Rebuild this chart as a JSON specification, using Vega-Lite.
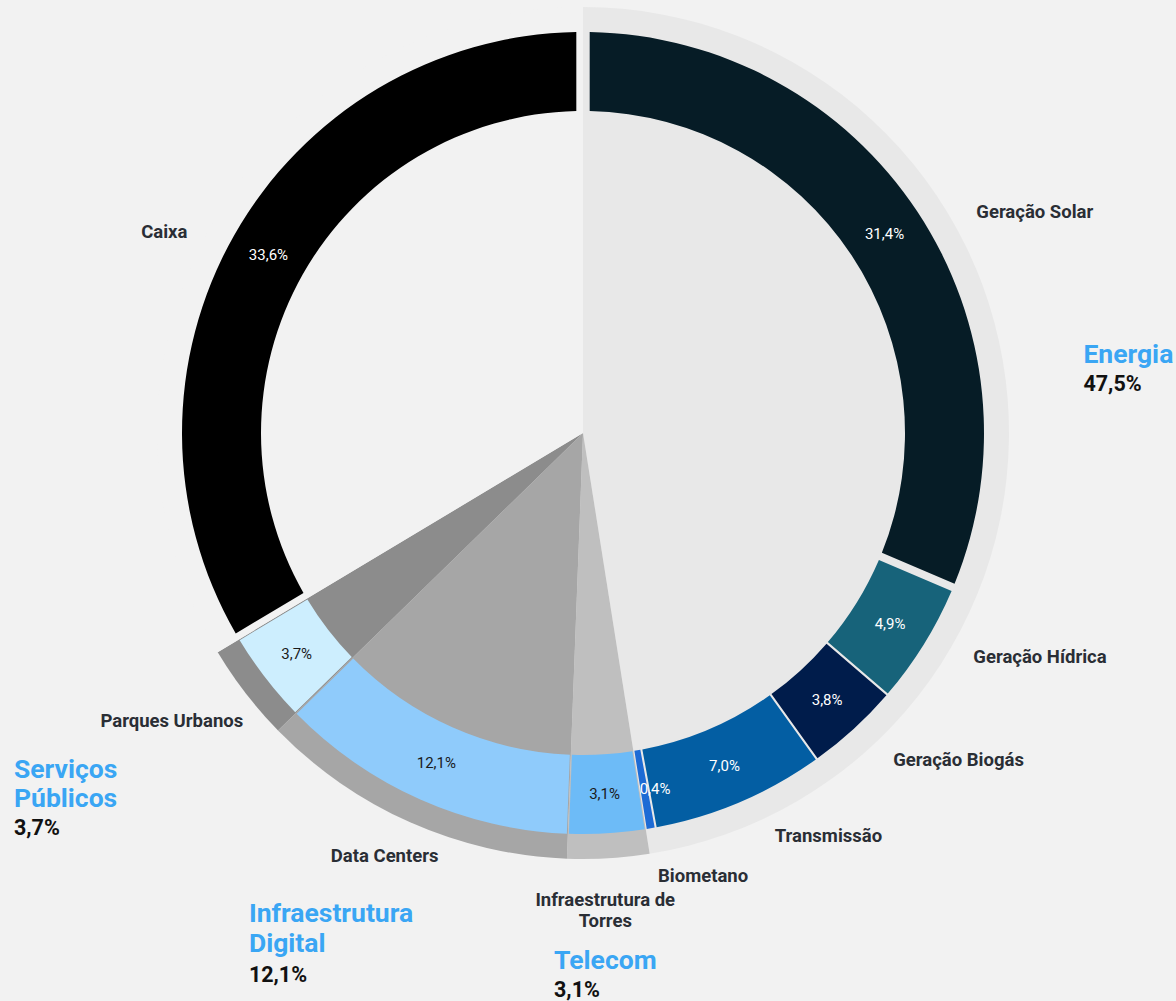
{
  "$schema": "https://vega.github.io/schema/vega-lite/v6.json",
  "width": 1166,
  "height": 866,
  "autosize": {"type": "none"},
  "padding": {"left": 0, "top": 0, "right": 10, "bottom": 135},
  "background": "#f2f2f2",
  "config": {"view": {"stroke": null}, "font": "Roboto", "text": {"font": "Roboto"}},
  "datasets": {
    "segs": [
      {"k": 1, "segment": "Geração Solar", "group": "Energia", "value": 31.4, "pct": "31,4%"},
      {"k": 2, "segment": "Geração Hídrica", "group": "Energia", "value": 4.9, "pct": "4,9%"},
      {"k": 3, "segment": "Geração Biogás", "group": "Energia", "value": 3.8, "pct": "3,8%"},
      {"k": 4, "segment": "Transmissão", "group": "Energia", "value": 7.0, "pct": "7,0%"},
      {"k": 5, "segment": "Biometano", "group": "Energia", "value": 0.4, "pct": "0,4%"},
      {"k": 6, "segment": "Infraestrutura de\nTorres", "group": "Telecom", "value": 3.1, "pct": "3,1%"},
      {"k": 7, "segment": "Data Centers", "group": "Infraestrutura Digital", "value": 12.1, "pct": "12,1%"},
      {"k": 8, "segment": "Parques Urbanos", "group": "Serviços Públicos", "value": 3.7, "pct": "3,7%"},
      {"k": 9, "segment": "Caixa", "group": "Caixa", "value": 33.6, "pct": "33,6%"}
    ],
    "groups": [
      {"k": 1, "group": "Energia", "label": "Energia", "value": 47.5, "pct": "47,5%"},
      {"k": 2, "group": "Telecom", "label": "Telecom", "value": 3.1, "pct": "3,1%"},
      {"k": 3, "group": "Infraestrutura Digital", "label": "Infraestrutura\nDigital", "value": 12.1, "pct": "12,1%"},
      {"k": 4, "group": "Serviços Públicos", "label": "Serviços\nPúblicos", "value": 3.7, "pct": "3,7%"},
      {"k": 5, "group": "Caixa", "label": "", "value": 33.6, "pct": ""}
    ]
  },
  "resolve": {"scale": {"color": "independent"}},
  "layer": [
    {
      "data": {"name": "groups"},
      "mark": {"type": "arc", "radius": 426},
      "encoding": {
        "theta": {"field": "value", "type": "quantitative", "stack": true, "scale": {"domain": [0, 100]}},
        "order": {"field": "k", "type": "quantitative"},
        "color": {"field": "group", "type": "nominal", "legend": null,
          "scale": {"domain": ["Energia", "Telecom", "Infraestrutura Digital", "Serviços Públicos", "Caixa"],
                    "range": ["#e8e8e8", "#bfbfbf", "#a6a6a6", "#8c8c8c", "#f2f2f2"]}}
      }
    },
    {
      "data": {"name": "segs"},
      "mark": {"type": "arc", "radius": 401, "radius2": 322, "padAngle": 0.004},
      "encoding": {
        "theta": {"field": "value", "type": "quantitative", "stack": true, "scale": {"domain": [0, 100]}},
        "order": {"field": "k", "type": "quantitative"},
        "color": {"field": "segment", "type": "nominal", "legend": null,
          "scale": {"domain": ["Geração Solar", "Geração Hídrica", "Geração Biogás", "Transmissão", "Biometano", "Infraestrutura de\nTorres", "Data Centers", "Parques Urbanos", "Caixa"],
                    "range": ["#061c26", "#17637a", "#001c4b", "#035ea3", "#1d6bd5", "#6dbbf7", "#8fcbfb", "#cdeefe", "#000000"]}},
        "opacity": {"condition": {"test": "datum.k === 1 || datum.k === 9", "value": 0}, "value": 1}
      }
    },
    {
      "data": {"name": "segs"},
      "mark": {"type": "arc", "radius": 401, "radius2": 322, "padAngle": 0.026},
      "encoding": {
        "theta": {"field": "value", "type": "quantitative", "stack": true, "scale": {"domain": [0, 100]}},
        "order": {"field": "k", "type": "quantitative"},
        "color": {"field": "segment", "type": "nominal", "legend": null,
          "scale": {"domain": ["Geração Solar", "Geração Hídrica", "Geração Biogás", "Transmissão", "Biometano", "Infraestrutura de\nTorres", "Data Centers", "Parques Urbanos", "Caixa"],
                    "range": ["#061c26", "#17637a", "#001c4b", "#035ea3", "#1d6bd5", "#6dbbf7", "#8fcbfb", "#cdeefe", "#000000"]}},
        "opacity": {"condition": {"test": "datum.k === 1 || datum.k === 9", "value": 1}, "value": 0}
      }
    },
    {
      "data": {"name": "segs"},
      "mark": {"type": "text", "radius": 361.5, "align": "center", "baseline": "middle", "fontSize": 15},
      "encoding": {
        "theta": {"field": "value", "type": "quantitative", "stack": true, "scale": {"domain": [0, 100]}},
        "order": {"field": "k", "type": "quantitative"},
        "detail": {"field": "segment", "type": "nominal"},
        "text": {"condition": {"test": "datum.k !== 5", "field": "pct"}, "value": ""},
        "color": {"condition": {"test": "datum.k >= 6 && datum.k <= 8", "value": "#1a1a1a"}, "value": "#ffffff"}
      }
    },
    {
      "data": {"name": "segs"},
      "mark": {"type": "text", "radius": 361.5, "align": "center", "baseline": "middle", "dx": 11, "fontSize": 15, "color": "#ffffff"},
      "encoding": {
        "theta": {"field": "value", "type": "quantitative", "stack": true, "scale": {"domain": [0, 100]}},
        "order": {"field": "k", "type": "quantitative"},
        "detail": {"field": "segment", "type": "nominal"},
        "text": {"condition": {"test": "datum.k === 5", "field": "pct"}, "value": ""}
      }
    },
    {
      "data": {"name": "segs"},
      "mark": {"type": "text", "radius": 390, "align": "left", "baseline": "alphabetic", "dx": 68, "fontSize": 18.5, "fontWeight": "bold", "color": "#2a2e35"},
      "encoding": {
        "theta": {"field": "value", "type": "quantitative", "stack": true, "scale": {"domain": [0, 100]}},
        "order": {"field": "k", "type": "quantitative"},
        "detail": {"field": "segment", "type": "nominal"},
        "text": {"condition": {"test": "datum.k === 1", "field": "segment"}, "value": ""}
      }
    },
    {
      "data": {"name": "segs"},
      "mark": {"type": "text", "radius": 436, "align": "left", "baseline": "alphabetic", "dx": 20, "fontSize": 18.5, "fontWeight": "bold", "color": "#2a2e35"},
      "encoding": {
        "theta": {"field": "value", "type": "quantitative", "stack": true, "scale": {"domain": [0, 100]}},
        "order": {"field": "k", "type": "quantitative"},
        "detail": {"field": "segment", "type": "nominal"},
        "text": {"condition": {"test": "datum.k === 2", "field": "segment"}, "value": ""}
      }
    },
    {
      "data": {"name": "segs"},
      "mark": {"type": "text", "radius": 452, "align": "left", "baseline": "alphabetic", "dx": 5, "fontSize": 18.5, "fontWeight": "bold", "color": "#2a2e35"},
      "encoding": {
        "theta": {"field": "value", "type": "quantitative", "stack": true, "scale": {"domain": [0, 100]}},
        "order": {"field": "k", "type": "quantitative"},
        "detail": {"field": "segment", "type": "nominal"},
        "text": {"condition": {"test": "datum.k === 3", "field": "segment"}, "value": ""}
      }
    },
    {
      "data": {"name": "segs"},
      "mark": {"type": "text", "radius": 444, "align": "left", "baseline": "alphabetic", "dx": 18, "fontSize": 18.5, "fontWeight": "bold", "color": "#2a2e35"},
      "encoding": {
        "theta": {"field": "value", "type": "quantitative", "stack": true, "scale": {"domain": [0, 100]}},
        "order": {"field": "k", "type": "quantitative"},
        "detail": {"field": "segment", "type": "nominal"},
        "text": {"condition": {"test": "datum.k === 4", "field": "segment"}, "value": ""}
      }
    },
    {
      "data": {"name": "segs"},
      "mark": {"type": "text", "radius": 456, "align": "left", "baseline": "alphabetic", "dx": -2, "fontSize": 18.5, "fontWeight": "bold", "color": "#2a2e35"},
      "encoding": {
        "theta": {"field": "value", "type": "quantitative", "stack": true, "scale": {"domain": [0, 100]}},
        "order": {"field": "k", "type": "quantitative"},
        "detail": {"field": "segment", "type": "nominal"},
        "text": {"condition": {"test": "datum.k === 5", "field": "segment"}, "value": ""}
      }
    },
    {
      "data": {"name": "segs"},
      "mark": {"type": "text", "radius": 474, "align": "center", "baseline": "alphabetic", "dx": -6, "fontSize": 18.5, "fontWeight": "bold", "color": "#2a2e35", "lineBreak": "\n", "lineHeight": 21},
      "encoding": {
        "theta": {"field": "value", "type": "quantitative", "stack": true, "scale": {"domain": [0, 100]}},
        "order": {"field": "k", "type": "quantitative"},
        "detail": {"field": "segment", "type": "nominal"},
        "text": {"condition": {"test": "datum.k === 6", "field": "segment"}, "value": ""}
      }
    },
    {
      "data": {"name": "segs"},
      "mark": {"type": "text", "radius": 469, "align": "center", "baseline": "alphabetic", "dx": -8, "fontSize": 18.5, "fontWeight": "bold", "color": "#2a2e35"},
      "encoding": {
        "theta": {"field": "value", "type": "quantitative", "stack": true, "scale": {"domain": [0, 100]}},
        "order": {"field": "k", "type": "quantitative"},
        "detail": {"field": "segment", "type": "nominal"},
        "text": {"condition": {"test": "datum.k === 7", "field": "segment"}, "value": ""}
      }
    },
    {
      "data": {"name": "segs"},
      "mark": {"type": "text", "radius": 482, "align": "right", "baseline": "alphabetic", "dx": 42, "fontSize": 18.5, "fontWeight": "bold", "color": "#2a2e35"},
      "encoding": {
        "theta": {"field": "value", "type": "quantitative", "stack": true, "scale": {"domain": [0, 100]}},
        "order": {"field": "k", "type": "quantitative"},
        "detail": {"field": "segment", "type": "nominal"},
        "text": {"condition": {"test": "datum.k === 8", "field": "segment"}, "value": ""}
      }
    },
    {
      "data": {"name": "segs"},
      "mark": {"type": "text", "radius": 396, "align": "right", "baseline": "alphabetic", "dx": -51, "fontSize": 18.5, "fontWeight": "bold", "color": "#2a2e35"},
      "encoding": {
        "theta": {"field": "value", "type": "quantitative", "stack": true, "scale": {"domain": [0, 100]}},
        "order": {"field": "k", "type": "quantitative"},
        "detail": {"field": "segment", "type": "nominal"},
        "text": {"condition": {"test": "datum.k === 9", "field": "segment"}, "value": ""}
      }
    },
    {
      "data": {"name": "groups"},
      "mark": {"type": "text", "radius": 502, "align": "left", "baseline": "alphabetic", "dy": -31, "fontSize": 26.5, "fontWeight": "bold", "color": "#3aa6f4"},
      "encoding": {
        "theta": {"field": "value", "type": "quantitative", "stack": true, "scale": {"domain": [0, 100]}},
        "order": {"field": "k", "type": "quantitative"},
        "detail": {"field": "group", "type": "nominal"},
        "text": {"condition": {"test": "datum.k === 1", "field": "label"}, "value": ""}
      }
    },
    {
      "data": {"name": "groups"},
      "mark": {"type": "text", "radius": 502, "align": "left", "baseline": "alphabetic", "dy": -3, "fontSize": 21.5, "fontWeight": "bold", "color": "#111111"},
      "encoding": {
        "theta": {"field": "value", "type": "quantitative", "stack": true, "scale": {"domain": [0, 100]}},
        "order": {"field": "k", "type": "quantitative"},
        "detail": {"field": "group", "type": "nominal"},
        "text": {"condition": {"test": "datum.k === 1", "field": "pct"}, "value": ""}
      }
    },
    {
      "data": {"name": "groups"},
      "mark": {"type": "text", "radius": 537, "align": "left", "baseline": "alphabetic", "dx": -61, "fontSize": 26.5, "fontWeight": "bold", "color": "#3aa6f4"},
      "encoding": {
        "theta": {"field": "value", "type": "quantitative", "stack": true, "scale": {"domain": [0, 100]}},
        "order": {"field": "k", "type": "quantitative"},
        "detail": {"field": "group", "type": "nominal"},
        "text": {"condition": {"test": "datum.k === 2", "field": "label"}, "value": ""}
      }
    },
    {
      "data": {"name": "groups"},
      "mark": {"type": "text", "radius": 537, "align": "left", "baseline": "alphabetic", "dx": -61, "dy": 28, "fontSize": 21.5, "fontWeight": "bold", "color": "#111111"},
      "encoding": {
        "theta": {"field": "value", "type": "quantitative", "stack": true, "scale": {"domain": [0, 100]}},
        "order": {"field": "k", "type": "quantitative"},
        "detail": {"field": "group", "type": "nominal"},
        "text": {"condition": {"test": "datum.k === 2", "field": "pct"}, "value": ""}
      }
    },
    {
      "data": {"name": "groups"},
      "mark": {"type": "text", "radius": 535, "align": "left", "baseline": "alphabetic", "dx": -117, "fontSize": 26.5, "fontWeight": "bold", "color": "#3aa6f4", "lineBreak": "\n", "lineHeight": 30},
      "encoding": {
        "theta": {"field": "value", "type": "quantitative", "stack": true, "scale": {"domain": [0, 100]}},
        "order": {"field": "k", "type": "quantitative"},
        "detail": {"field": "group", "type": "nominal"},
        "text": {"condition": {"test": "datum.k === 3", "field": "label"}, "value": ""}
      }
    },
    {
      "data": {"name": "groups"},
      "mark": {"type": "text", "radius": 535, "align": "left", "baseline": "alphabetic", "dx": -117, "dy": 60, "fontSize": 21.5, "fontWeight": "bold", "color": "#111111"},
      "encoding": {
        "theta": {"field": "value", "type": "quantitative", "stack": true, "scale": {"domain": [0, 100]}},
        "order": {"field": "k", "type": "quantitative"},
        "detail": {"field": "group", "type": "nominal"},
        "text": {"condition": {"test": "datum.k === 3", "field": "pct"}, "value": ""}
      }
    },
    {
      "data": {"name": "groups"},
      "mark": {"type": "text", "radius": 565, "align": "left", "baseline": "alphabetic", "dx": -121.5, "fontSize": 26.5, "fontWeight": "bold", "color": "#3aa6f4", "lineBreak": "\n", "lineHeight": 29},
      "encoding": {
        "theta": {"field": "value", "type": "quantitative", "stack": true, "scale": {"domain": [0, 100]}},
        "order": {"field": "k", "type": "quantitative"},
        "detail": {"field": "group", "type": "nominal"},
        "text": {"condition": {"test": "datum.k === 4", "field": "label"}, "value": ""}
      }
    },
    {
      "data": {"name": "groups"},
      "mark": {"type": "text", "radius": 565, "align": "left", "baseline": "alphabetic", "dx": -121.5, "dy": 57, "fontSize": 21.5, "fontWeight": "bold", "color": "#111111"},
      "encoding": {
        "theta": {"field": "value", "type": "quantitative", "stack": true, "scale": {"domain": [0, 100]}},
        "order": {"field": "k", "type": "quantitative"},
        "detail": {"field": "group", "type": "nominal"},
        "text": {"condition": {"test": "datum.k === 4", "field": "pct"}, "value": ""}
      }
    }
  ]
}
